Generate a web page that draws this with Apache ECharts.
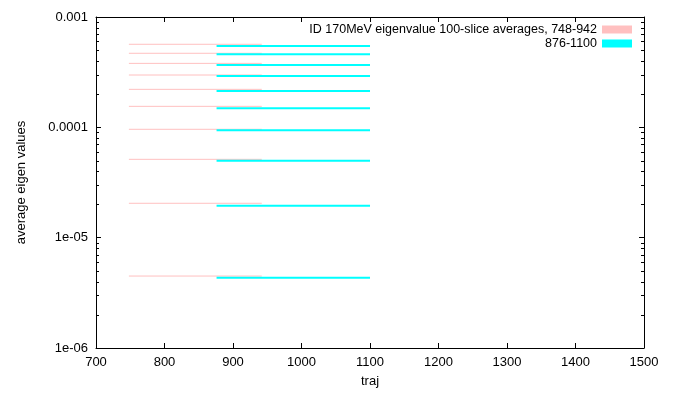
<!DOCTYPE html>
<html><head><meta charset="utf-8">
<script src="https://cdn.jsdelivr.net/npm/echarts@6/dist/echarts.min.js"></script>
<style>html,body{margin:0;padding:0;background:#fff}#c{width:693px;height:394px}</style>
</head><body><div id="c"></div>
<script>
const pinkName = 'ID 170MeV eigenvalue 100-slice averages, 748-942';
const cyanName = '876-1100';
const pinkRange = [748, 942];
const cyanRange = [876, 1100];
const pinkLevels = [5.66e-4, 4.69e-4, 3.80e-4, 2.98e-4, 2.21e-4, 1.55e-4, 9.60e-5, 5.13e-5, 2.05e-5, 4.49e-6];
const cyanLevels = [5.46e-4, 4.59e-4, 3.67e-4, 2.92e-4, 2.13e-4, 1.49e-4, 9.40e-5, 4.98e-5, 1.95e-5, 4.34e-6];
const xTicks = [700, 800, 900, 1000, 1100, 1200, 1300, 1400, 1500];
const yTickLabels = {'-6':'1e-06','-5':'1e-05','-4':'0.0001','-3':'0.001'};
const yMinorTicks = [
  2e-6, 3e-6, 4e-6, 5e-6, 6e-6, 7e-6, 8e-6, 9e-6,
  2e-5, 3e-5, 4e-5, 5e-5, 6e-5, 7e-5, 8e-5, 9e-5,
  2e-4, 3e-4, 4e-4, 5e-4, 6e-4, 7e-4, 8e-4, 9e-4
];

const font = 'Liberation Sans, Arial, sans-serif';
const series = [];
function addLevels(name, range, levels, color, width) {
  levels.forEach(v => {
    series.push({
      name: name, type: 'line', xAxisIndex: 0, yAxisIndex: 0,
      data: [[range[0], v], [range[1], v]],
      symbol: 'none', lineStyle: {color: color, width: width}, itemStyle: {color: color},
      silent: true, animation: false
    });
  });
}
addLevels(pinkName, pinkRange, pinkLevels, '#ffc0c0', 1);
addLevels(cyanName, cyanRange, cyanLevels, '#00ffff', 2);

series.push({
  type: 'custom', name: 'minor', silent: true, animation: false, z: 10, clip: false,
  data: yMinorTicks.map(v => [xTicks[0], v]),
  encode: {x: 0, y: 1},
  renderItem: function (params, api) {
    const v = api.value(1);
    const l = api.coord([xTicks[0], v]);
    const r = api.coord([xTicks[xTicks.length - 1], v]);
    const st = {stroke: '#000', lineWidth: 1};
    return {type: 'group', children: [
      {type: 'line', shape: {x1: l[0], y1: Math.round(l[1]) + 0.5, x2: l[0] + 3, y2: Math.round(l[1]) + 0.5}, style: st},
      {type: 'line', shape: {x1: r[0], y1: Math.round(r[1]) + 0.5, x2: r[0] - 3, y2: Math.round(r[1]) + 0.5}, style: st}
    ]};
  }
});

const axLine = {show: true, lineStyle: {color: '#000', width: 1}};
const yBase = {
  type: 'log', min: 1e-6, max: 1e-3, logBase: 10,
  axisLine: axLine,
  axisTick: {show: true, inside: true, length: 5, lineStyle: {color: '#000'}},
  splitLine: {show: false}
};
const xBase = {
  type: 'value', min: xTicks[0], max: xTicks[xTicks.length-1], interval: 100,
  axisLine: axLine,
  axisTick: {show: true, inside: true, length: 5, lineStyle: {color: '#000'}},
  splitLine: {show: false}
};
const chart = echarts.init(document.getElementById('c'), null, {renderer: 'canvas'});
chart.setOption({
  animation: false,
  backgroundColor: '#fff',
  grid: {left: 96, right: 49, top: 17, bottom: 46},
  legend: {
    orient: 'vertical', right: 56, top: 18, align: 'right',
    itemWidth: 30, itemHeight: 8, itemGap: 1, icon: 'rect',
    textStyle: {fontFamily: font, fontSize: 12.5, color: '#000', padding: [0, 0, 0, 0]},
    data: [{name: pinkName}, {name: cyanName}]
  },
  xAxis: [
    Object.assign({}, xBase, {
      position: 'bottom', name: 'traj', nameLocation: 'middle', nameGap: 27,
      nameTextStyle: {fontFamily: font, fontSize: 13, color: '#000'},
      axisLabel: {fontFamily: font, fontSize: 13, color: '#000', margin: 8, formatter: v => String(v)}
    }),
    Object.assign({}, xBase, {position: 'top', axisLabel: {show: false}})
  ],
  yAxis: [
    Object.assign({}, yBase, {
      position: 'left', name: 'average eigen values', nameLocation: 'middle', nameGap: 68,
      nameTextStyle: {fontFamily: font, fontSize: 13, color: '#000'},
      axisLabel: {fontFamily: font, fontSize: 13, color: '#000', margin: 8,
        formatter: v => yTickLabels[String(Math.round(Math.log10(v)))] || ''}
    }),
    Object.assign({}, yBase, {position: 'right', axisLabel: {show: false}})
  ],
  series: series
});
</script></body></html>
